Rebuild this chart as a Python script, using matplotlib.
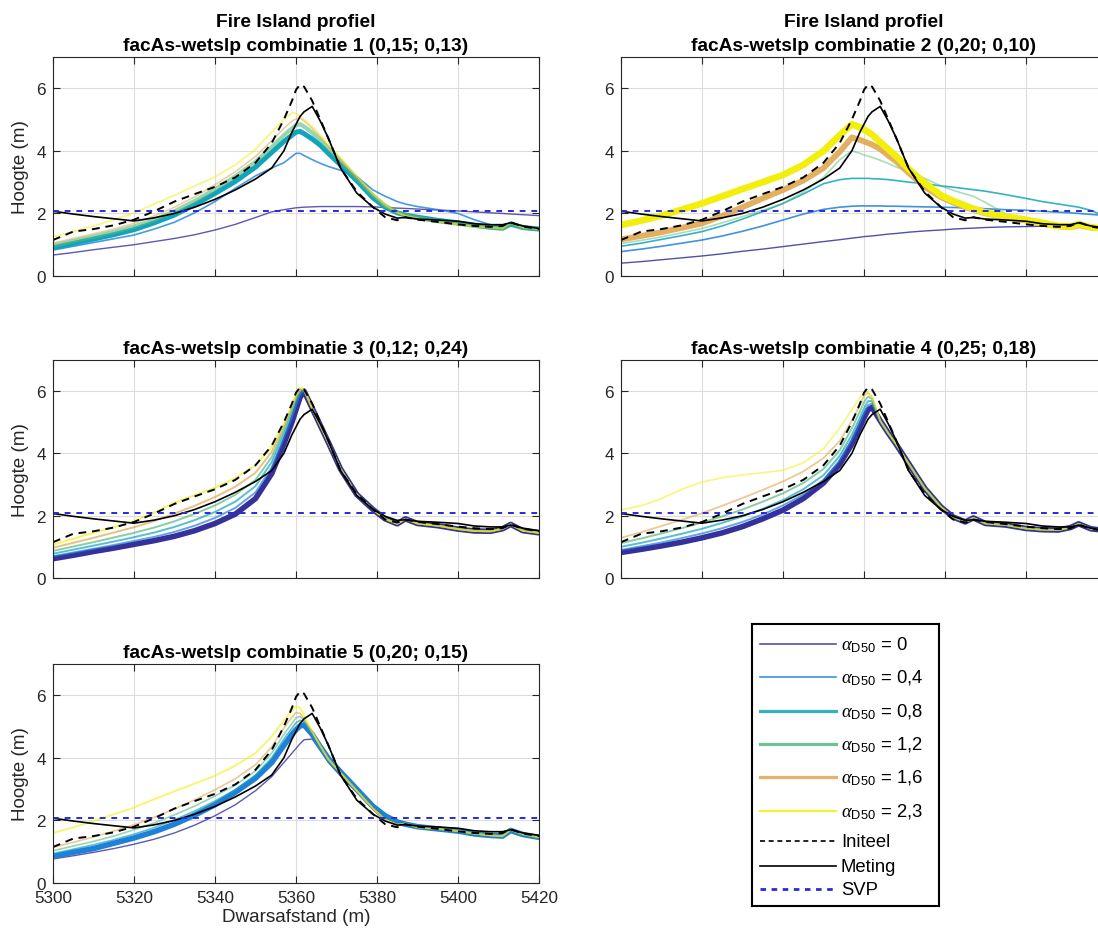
import matplotlib
matplotlib.use("Agg")
import matplotlib.pyplot as plt

plt.rcParams["font.family"] = ["Liberation Sans", "DejaVu Sans"]
plt.rcParams["mathtext.fontset"] = "custom"
plt.rcParams["mathtext.rm"] = "Liberation Sans"
plt.rcParams["mathtext.it"] = "Liberation Serif:italic"
plt.rcParams["mathtext.bf"] = "Liberation Sans:bold"

# ---------------------------------------------------------------- data
dwarsafstand = [5300, 5305, 5310, 5315, 5320, 5325, 5330, 5335, 5340, 5345,
                5350, 5354, 5357, 5359, 5360, 5361, 5362, 5364, 5366, 5368,
                5371, 5375, 5379, 5382, 5385, 5387, 5390, 5395, 5400, 5404,
                5408, 5411, 5413, 5416, 5420]

initeel = [1.15, 1.42, 1.5, 1.62, 1.8, 2.07, 2.38, 2.62, 2.85, 3.15,
           3.62, 4.25, 5.0, 5.6, 5.95, 6.12, 6.05, 5.6, 5.0, 4.4,
           3.45, 2.7, 2.2, 1.88, 1.78, 1.88, 1.8, 1.73, 1.65, 1.6,
           1.57, 1.6, 1.72, 1.58, 1.5]

meting = [2.07, 1.98, 1.9, 1.83, 1.76, 1.86, 2.0, 2.2, 2.45, 2.75,
          3.1, 3.45, 4.0, 4.6, 4.85, 5.1, 5.25, 5.42, 4.95, 4.4,
          3.45, 2.65, 2.2, 1.98, 1.85, 1.87, 1.82, 1.79, 1.75, 1.67,
          1.64, 1.64, 1.7, 1.6, 1.52]

svp = 2.08

alpha_d50 = ["0", "0,4", "0,8", "1,2", "1,6", "2,3"]

# combinatie 1 (0,15; 0,13)
c1_a00 = [0.67, 0.75, 0.84, 0.92, 1.0, 1.1, 1.2, 1.32, 1.47, 1.65, 1.87, 2.05, 2.12, 2.16, 2.18, 2.19, 2.2, 2.21, 2.22, 2.22, 2.22, 2.22, 2.21, 2.19, 2.17, 2.16, 2.14, 2.11, 2.08, 2.05, 2.02, 2.0, 1.98, 1.96, 1.93]
c1_a04 = [0.83, 0.95, 1.07, 1.19, 1.31, 1.5, 1.72, 2.02, 2.38, 2.8, 3.2, 3.45, 3.62, 3.82, 3.92, 3.92, 3.85, 3.72, 3.6, 3.5, 3.38, 3.18, 2.75, 2.55, 2.38, 2.3, 2.22, 2.12, 2.0, 1.8, 1.64, 1.58, 1.6, 1.55, 1.52]
c1_a08 = [0.9, 1.04, 1.18, 1.32, 1.48, 1.7, 1.95, 2.28, 2.64, 3.02, 3.48, 3.95, 4.3, 4.5, 4.6, 4.62, 4.55, 4.38, 4.18, 3.92, 3.55, 3.05, 2.5, 2.2, 2.02, 1.95, 1.88, 1.78, 1.7, 1.63, 1.56, 1.53, 1.66, 1.55, 1.5]
c1_a12 = [0.97, 1.12, 1.26, 1.41, 1.58, 1.8, 2.07, 2.4, 2.78, 3.18, 3.65, 4.12, 4.5, 4.72, 4.82, 4.85, 4.78, 4.58, 4.35, 4.08, 3.68, 3.12, 2.58, 2.25, 2.03, 1.95, 1.86, 1.75, 1.67, 1.6, 1.55, 1.52, 1.68, 1.55, 1.5]
c1_a16 = [1.05, 1.2, 1.35, 1.5, 1.68, 1.92, 2.2, 2.53, 2.92, 3.33, 3.82, 4.32, 4.72, 4.95, 5.02, 5.05, 4.96, 4.72, 4.45, 4.15, 3.72, 3.15, 2.6, 2.25, 2.02, 1.93, 1.85, 1.74, 1.66, 1.59, 1.55, 1.52, 1.69, 1.55, 1.5]
c1_a23 = [1.25, 1.42, 1.6, 1.8, 2.02, 2.3, 2.58, 2.88, 3.17, 3.55, 4.05, 4.6, 5.0, 5.22, 5.2, 5.1, 5.0, 4.78, 4.5, 4.2, 3.78, 3.2, 2.62, 2.28, 2.03, 1.93, 1.84, 1.73, 1.65, 1.58, 1.55, 1.52, 1.7, 1.55, 1.5]

# combinatie 2 (0,20; 0,10)
c2_a00 = [0.41, 0.46, 0.52, 0.58, 0.64, 0.71, 0.79, 0.86, 0.94, 1.02, 1.1, 1.16, 1.21, 1.24, 1.26, 1.27, 1.28, 1.31, 1.34, 1.36, 1.4, 1.44, 1.47, 1.5, 1.52, 1.53, 1.55, 1.57, 1.58, 1.59, 1.6, 1.6, 1.6, 1.6, 1.6]
c2_a04 = [0.78, 0.86, 0.95, 1.05, 1.15, 1.28, 1.43, 1.6, 1.79, 1.98, 2.13, 2.2, 2.23, 2.24, 2.24, 2.24, 2.24, 2.24, 2.23, 2.23, 2.22, 2.21, 2.2, 2.19, 2.18, 2.17, 2.15, 2.12, 2.1, 2.07, 2.04, 2.02, 2.0, 1.97, 1.93]
c2_a08 = [0.95, 1.05, 1.17, 1.29, 1.42, 1.6, 1.82, 2.06, 2.32, 2.62, 2.95, 3.08, 3.12, 3.12, 3.12, 3.12, 3.11, 3.1, 3.08, 3.05, 3.0, 2.95, 2.88, 2.84, 2.79, 2.76, 2.71, 2.6, 2.48, 2.38, 2.3, 2.24, 2.2, 2.1, 1.88]
c2_a12 = [1.04, 1.14, 1.25, 1.38, 1.52, 1.7, 1.9, 2.1, 2.32, 2.68, 3.15, 3.72, 4.0, 3.92, 3.87, 3.83, 3.79, 3.7, 3.6, 3.48, 3.35, 3.12, 2.88, 2.74, 2.62, 2.55, 2.35, 1.98, 1.78, 1.67, 1.6, 1.58, 1.62, 1.55, 1.5]
c2_a16 = [1.17, 1.28, 1.4, 1.54, 1.68, 1.92, 2.2, 2.48, 2.75, 3.05, 3.45, 3.97, 4.43, 4.35, 4.3, 4.25, 4.2, 4.06, 3.85, 3.66, 3.3, 2.85, 2.52, 2.35, 2.2, 2.12, 2.0, 1.88, 1.77, 1.67, 1.59, 1.56, 1.62, 1.55, 1.5]
c2_a23 = [1.63, 1.77, 1.93, 2.12, 2.32, 2.55, 2.78, 3.0, 3.23, 3.55, 4.0, 4.5, 4.85, 4.75, 4.68, 4.6, 4.52, 4.28, 4.05, 3.82, 3.42, 2.98, 2.58, 2.4, 2.25, 2.15, 2.03, 1.9, 1.8, 1.7, 1.6, 1.58, 1.66, 1.56, 1.5]

# combinatie 3 (0,12; 0,24): strandzijde per run, gedeelde duinachterkant
c3_back = [5.45, 4.9, 4.35, 3.5, 2.68, 2.2, 1.9, 1.74, 1.9, 1.75, 1.68, 1.57, 1.51, 1.5, 1.58, 1.72, 1.52, 1.45]
c3_a00 = [0.62, 0.73, 0.85, 0.96, 1.08, 1.2, 1.34, 1.52, 1.75, 2.05, 2.55, 3.35, 4.3, 5.0, 5.4, 5.8, 6.0]
c3_a04 = [0.7, 0.82, 0.94, 1.06, 1.19, 1.32, 1.48, 1.68, 1.93, 2.25, 2.75, 3.55, 4.5, 5.15, 5.55, 5.9, 6.02]
c3_a08 = [0.78, 0.91, 1.04, 1.17, 1.31, 1.46, 1.64, 1.86, 2.12, 2.45, 2.95, 3.72, 4.65, 5.3, 5.68, 5.98, 6.04]
c3_a12 = [0.87, 1.01, 1.15, 1.3, 1.45, 1.62, 1.82, 2.06, 2.33, 2.67, 3.15, 3.88, 4.78, 5.42, 5.8, 6.05, 6.05]
c3_a16 = [0.97, 1.13, 1.29, 1.46, 1.63, 1.83, 2.07, 2.32, 2.6, 2.93, 3.38, 4.05, 4.88, 5.5, 5.85, 6.08, 6.05]
c3_a23 = [1.07, 1.26, 1.45, 1.63, 1.82, 2.1, 2.42, 2.66, 2.9, 3.2, 3.62, 4.2, 4.95, 5.55, 5.9, 6.1, 6.05]

# combinatie 4 (0,25; 0,18): strandzijde per run, gedeelde duinachterkant
c4_back = [5.05, 4.65, 4.28, 3.68, 2.88, 2.28, 1.96, 1.8, 1.93, 1.75, 1.7, 1.59, 1.55, 1.54, 1.62, 1.74, 1.58, 1.52]
c4_a00 = [0.82, 0.92, 1.03, 1.15, 1.29, 1.45, 1.65, 1.9, 2.18, 2.55, 3.05, 3.65, 4.3, 4.85, 5.14, 5.4, 5.48]
c4_a04 = [0.9, 1.02, 1.14, 1.28, 1.43, 1.6, 1.8, 2.04, 2.33, 2.68, 3.15, 3.78, 4.45, 5.0, 5.3, 5.55, 5.6]
c4_a08 = [1.0, 1.13, 1.27, 1.42, 1.58, 1.77, 1.98, 2.22, 2.5, 2.85, 3.3, 3.92, 4.6, 5.15, 5.45, 5.68, 5.68]
c4_a12 = [1.12, 1.27, 1.43, 1.6, 1.78, 1.98, 2.2, 2.45, 2.72, 3.05, 3.5, 4.1, 4.8, 5.35, 5.65, 5.82, 5.75]
c4_a16 = [1.29, 1.47, 1.67, 1.87, 2.08, 2.32, 2.57, 2.83, 3.1, 3.42, 3.85, 4.4, 5.05, 5.55, 5.85, 5.95, 5.8]
c4_a23 = [2.18, 2.32, 2.55, 2.85, 3.08, 3.22, 3.31, 3.38, 3.46, 3.7, 4.15, 4.82, 5.4, 5.8, 5.97, 5.95, 5.82]

# combinatie 5 (0,20; 0,15)
c5_a00 = [0.77, 0.87, 0.98, 1.1, 1.24, 1.4, 1.6, 1.85, 2.15, 2.5, 2.95, 3.4, 3.85, 4.15, 4.3, 4.45, 4.58, 4.6, 4.25, 3.85, 3.42, 2.9, 2.35, 2.0, 1.9, 1.88, 1.8, 1.72, 1.65, 1.55, 1.5, 1.48, 1.68, 1.55, 1.47]
c5_a04 = [0.85, 0.98, 1.1, 1.27, 1.44, 1.64, 1.88, 2.17, 2.5, 2.9, 3.35, 3.85, 4.4, 4.75, 4.9, 5.02, 5.05, 4.75, 4.35, 3.98, 3.55, 3.0, 2.45, 2.15, 1.95, 1.88, 1.8, 1.73, 1.66, 1.57, 1.52, 1.5, 1.68, 1.55, 1.46]
c5_a08 = [0.94, 1.08, 1.22, 1.38, 1.56, 1.77, 2.02, 2.3, 2.62, 2.98, 3.45, 4.0, 4.6, 4.95, 5.12, 5.2, 5.15, 4.8, 4.38, 3.97, 3.52, 2.95, 2.38, 2.05, 1.89, 1.89, 1.79, 1.73, 1.66, 1.57, 1.52, 1.5, 1.69, 1.55, 1.46]
c5_a12 = [1.03, 1.18, 1.33, 1.5, 1.7, 1.92, 2.18, 2.46, 2.78, 3.13, 3.58, 4.15, 4.75, 5.1, 5.28, 5.32, 5.2, 4.8, 4.38, 3.96, 3.52, 2.95, 2.38, 2.04, 1.88, 1.9, 1.78, 1.73, 1.66, 1.58, 1.52, 1.5, 1.7, 1.56, 1.46]
c5_a16 = [1.14, 1.3, 1.47, 1.66, 1.86, 2.1, 2.37, 2.66, 2.98, 3.33, 3.78, 4.35, 4.95, 5.3, 5.45, 5.42, 5.25, 4.82, 4.38, 3.96, 3.52, 2.95, 2.38, 2.03, 1.87, 1.9, 1.78, 1.73, 1.66, 1.58, 1.52, 1.5, 1.7, 1.56, 1.46]
c5_a23 = [1.6, 1.78, 1.98, 2.2, 2.41, 2.68, 2.93, 3.18, 3.43, 3.75, 4.15, 4.68, 5.2, 5.5, 5.65, 5.6, 5.35, 4.85, 4.38, 3.95, 3.52, 2.95, 2.38, 2.02, 1.85, 1.9, 1.78, 1.73, 1.66, 1.58, 1.52, 1.5, 1.7, 1.56, 1.46]

panel_titles = [
    "Fire Island profiel\nfacAs-wetslp combinatie 1 (0,15; 0,13)",
    "Fire Island profiel\nfacAs-wetslp combinatie 2 (0,20; 0,10)",
    "facAs-wetslp combinatie 3 (0,12; 0,24)",
    "facAs-wetslp combinatie 4 (0,25; 0,18)",
    "facAs-wetslp combinatie 5 (0,20; 0,15)",
]

panel_runs = [
    [c1_a00, c1_a04, c1_a08, c1_a12, c1_a16, c1_a23],
    [c2_a00, c2_a04, c2_a08, c2_a12, c2_a16, c2_a23],
    [s + c3_back for s in (c3_a00, c3_a04, c3_a08, c3_a12, c3_a16, c3_a23)],
    [s + c4_back for s in (c4_a00, c4_a04, c4_a08, c4_a12, c4_a16, c4_a23)],
    [c5_a00, c5_a04, c5_a08, c5_a12, c5_a16, c5_a23],
]

# ---------------------------------------------------------------- styling
run_colors = ["#35309a", "#1e80d8", "#12a4bb", "#56b97f", "#e0a650", "#f2ef0c"]

# (linewidth, alpha) per run and panel; the best-fitting runs are drawn heavy
panel_styles = [
    [(1.0, 0.8), (1.2, 0.8), (3.6, 1.0), (3.0, 0.6), (1.2, 0.55), (1.3, 0.5)],
    [(1.0, 0.85), (1.2, 0.85), (1.2, 0.85), (1.2, 0.5), (4.2, 0.9), (4.8, 1.0)],
    [(4.0, 1.0), (1.4, 0.7), (1.4, 0.7), (1.4, 0.7), (1.4, 0.7), (1.4, 0.65)],
    [(4.0, 1.0), (1.4, 0.7), (1.4, 0.7), (1.4, 0.7), (1.3, 0.6), (1.3, 0.5)],
    [(1.0, 0.8), (4.0, 1.0), (1.2, 0.7), (1.2, 0.6), (1.2, 0.6), (1.5, 0.55)],
]

TXT = "#262626"
SVP_COLOR = "#2a2ad8"
W, H = 1098, 937
fig = plt.figure(figsize=(W / 100, H / 100), dpi=100)


def box(left, top, right, bottom):
    return [left / W, 1 - bottom / H, (right - left) / W, (bottom - top) / H]


boxes = [box(53, 58, 539, 277), box(621, 58, 1107, 277),
         box(53, 361, 539, 579), box(621, 361, 1107, 579),
         box(53, 665, 539, 884)]

for i, b in enumerate(boxes):
    ax = fig.add_axes(b)
    for k, ys in enumerate(panel_runs[i]):
        lw, a = panel_styles[i][k]
        ax.plot(dwarsafstand, ys, color=run_colors[k], lw=lw, alpha=a,
                solid_joinstyle="round", solid_capstyle="round")
    ax.plot(dwarsafstand, initeel, color="black", lw=1.4, ls=(0, (4, 3)))
    ax.plot(dwarsafstand, meting, color="black", lw=1.2)
    ax.plot([dwarsafstand[0], dwarsafstand[-1]], [svp, svp], color=SVP_COLOR,
            lw=1.4, ls=(0, (3, 3)))

    ax.set_xlim(5300, 5420)
    ax.set_ylim(0, 7)
    ax.set_xticks(range(5300, 5421, 20))
    ax.set_yticks([0, 2, 4, 6])
    ax.grid(True, color="#dcdcdc", lw=0.8)
    ax.set_axisbelow(True)
    ax.tick_params(direction="in", length=5, width=0.8, top=True, right=True,
                   labelsize=12.3, colors=TXT, labelbottom=(i == 4), pad=5)
    for sp in ax.spines.values():
        sp.set_color(TXT)
        sp.set_linewidth(0.8)
    ax.set_title(panel_titles[i], fontsize=13.8, fontweight="bold", pad=5,
                 linespacing=1.55)
    if i % 2 == 0:
        ax.set_ylabel("Hoogte (m)", fontsize=13.6, color=TXT, labelpad=5)
    if i == 4:
        ax.set_xlabel("Dwarsafstand (m)", fontsize=13.6, color=TXT, labelpad=2)

# legend panel, laid out in pixel units inside its own frame
lax = fig.add_axes(box(752, 625, 939, 907))
lax.set_xlim(0, 187)
lax.set_ylim(282, 0)
lax.set_xticks([])
lax.set_yticks([])
for sp in lax.spines.values():
    sp.set_color("black")
    sp.set_linewidth(1.5)

legend_widths = [1.2, 1.2, 2.3, 2.3, 2.3, 1.6]
row_y = [20, 53, 87, 120, 153, 187, 217, 242, 265]
hx0, hx1, tx = 8, 84, 89
for k, a in enumerate(alpha_d50):
    y = row_y[k]
    lax.plot([hx0, hx1], [y, y], color=run_colors[k], lw=legend_widths[k],
             alpha=0.85)
    lax.text(tx, y + 5, r"$\alpha_{\mathrm{D50}}$ = " + a, fontsize=13.3,
             va="baseline", ha="left")
extra = [("Initeel", dict(color="black", lw=1.2, ls=(0, (3, 2.2)))),
         ("Meting", dict(color="black", lw=1.2)),
         ("SVP", dict(color=SVP_COLOR, lw=2.0, ls=(0, (2, 2))))]
for (label, style), y in zip(extra, row_y[6:]):
    lax.plot([hx0, hx1], [y, y], **style)
    lax.text(tx, y + 5, label, fontsize=13.3, va="baseline", ha="left")

fig.savefig("out.png", dpi=100)
